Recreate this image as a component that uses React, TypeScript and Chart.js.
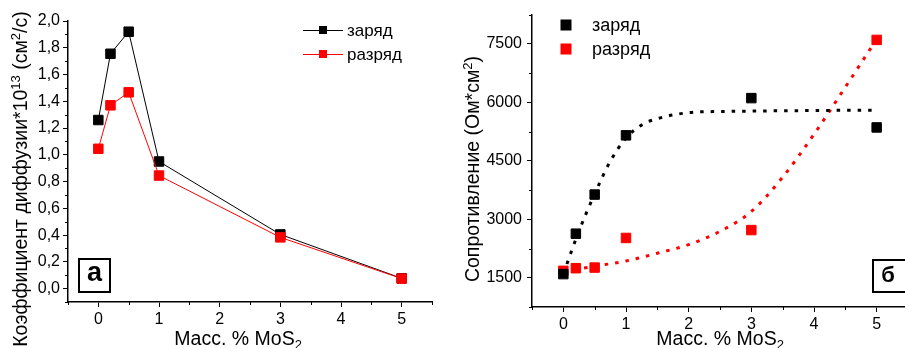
import React, { useEffect, useRef } from 'react';
import { Chart, registerables } from 'chart.js';

Chart.register(...registerables);

// ---- data ----
const massPct = [0, 0.2, 0.5, 1, 3, 5];
const diffCharge = [1.26, 1.755, 1.92, 0.95, 0.405, 0.077];
const diffDischarge = [1.045, 1.37, 1.467, 0.845, 0.383, 0.075];
const resCharge = [1594, 2631, 3634, 5153, 6108, 5356];
const resDischarge = [1677, 1745, 1761, 2521, 2723, 7601];

const chargeFitX = [0, 0.25, 0.5, 0.75, 1.0, 1.25, 1.5, 2.0, 2.5, 3.0, 4.0, 5.0];
const chargeFitY = [1600, 2700, 3650, 4490, 5080, 5420, 5580, 5735, 5765, 5775, 5790, 5800];
const dischargeFitX = [0, 0.5, 1.0, 1.5, 2.0, 2.5, 3.0, 3.5, 4.0, 4.5, 5.0];
const dischargeFitY = [1660, 1795, 1930, 2130, 2350, 2690, 3200, 4080, 5180, 6390, 7620];

const seriesLabels = ['заряд', 'разряд'];
const xTicks = [0, 1, 2, 3, 4, 5];
const xMinor = [-0.5, 0.5, 1.5, 2.5, 3.5, 4.5, 5.5];
const yTicksLeft = [0, 0.2, 0.4, 0.6, 0.8, 1.0, 1.2, 1.4, 1.6, 1.8, 2.0];
const yMinorLeft = [-0.1, 0.1, 0.3, 0.5, 0.7, 0.9, 1.1, 1.3, 1.5, 1.7, 1.9];
const yTicksRight = [1500, 3000, 4500, 6000, 7500];
const yMinorRight = [750, 2250, 3750, 5250, 6750, 8250];

// title text pieces: [text, 0 = normal | 1 = superscript | -1 = subscript]
const xTitleParts: [string, number][] = [['Масс. % MoS', 0], ['2', -1]];
const yTitleLeftParts: [string, number][] = [
  ['Коэффициент диффузии*10', 0],
  ['13', 1],
  [' (см', 0],
  ['2', 1],
  ['/с)', 0],
];
const yTitleRightParts: [string, number][] = [['Сопротивление (Ом*см', 0], ['2', 1], [')', 0]];
const panelLabels = ['а', 'б'];

const FONT = '"Liberation Sans", Arial, sans-serif';
const BLACK = '#000000';
const RED = '#ff0000';

const pts = (xs: number[], ys: number[]) => xs.map((x, i) => ({ x, y: ys[i] }));

function drawRich(ctx: any, parts: [string, number][], size: number) {
  const fontFor = (k: number) => `${k === 0 ? size : Math.round(size * 0.68)}px ${FONT}`;
  let total = 0;
  parts.forEach(([t, k]) => {
    ctx.font = fontFor(k);
    total += ctx.measureText(t).width;
  });
  let x = -total / 2;
  parts.forEach(([t, k]) => {
    ctx.font = fontFor(k);
    const dy = k === 1 ? -size * 0.36 : k === -1 ? size * 0.22 : 0;
    ctx.fillText(t, x, dy);
    x += ctx.measureText(t).width;
  });
}

const decoPlugin = {
  id: 'deco',
  afterDraw(chart: any, _args: any, opts: any) {
    const ctx = chart.ctx;
    ctx.save();
    // minor ticks
    (opts.minor || []).forEach((m: any) => {
      const s = chart.scales[m.scale];
      ctx.strokeStyle = BLACK;
      ctx.lineWidth = 1;
      m.values.forEach((v: number) => {
        const p = Math.round(s.getPixelForValue(v)) + 0.5;
        ctx.beginPath();
        if (s.isHorizontal()) {
          const y0 = chart.chartArea.bottom;
          ctx.moveTo(p, y0);
          ctx.lineTo(p, y0 + m.len);
        } else {
          const x0 = chart.chartArea.left;
          ctx.moveTo(x0 - m.len, p);
          ctx.lineTo(x0, p);
        }
        ctx.stroke();
      });
    });
    // titles
    (opts.titles || []).forEach((t: any) => {
      ctx.save();
      ctx.fillStyle = BLACK;
      ctx.textAlign = 'left';
      ctx.textBaseline = 'alphabetic';
      ctx.translate(t.x, t.y);
      if (t.rotate) ctx.rotate(t.rotate);
      drawRich(ctx, t.parts, t.size);
      ctx.restore();
    });
    // legend
    (opts.legend || []).forEach((l: any) => {
      ctx.strokeStyle = l.color;
      ctx.fillStyle = l.color;
      if (l.lineFrom !== undefined) {
        ctx.lineWidth = 1;
        ctx.beginPath();
        ctx.moveTo(l.lineFrom, l.y + 0.5);
        ctx.lineTo(l.lineTo, l.y + 0.5);
        ctx.stroke();
      }
      ctx.fillRect(l.mx - l.size / 2, l.y - l.size / 2, l.size, l.size);
      ctx.fillStyle = BLACK;
      ctx.font = l.font;
      ctx.textAlign = 'left';
      ctx.textBaseline = 'middle';
      ctx.fillText(l.text, l.tx, l.y + 1);
    });
    // panel label box
    (opts.boxes || []).forEach((b: any) => {
      ctx.strokeStyle = BLACK;
      ctx.lineWidth = 2;
      ctx.fillStyle = '#ffffff';
      ctx.fillRect(b.x, b.y, b.w, b.h);
      ctx.strokeRect(b.x, b.y, b.w, b.h);
      ctx.fillStyle = BLACK;
      ctx.font = b.font;
      ctx.textAlign = 'center';
      ctx.textBaseline = 'middle';
      ctx.fillText(b.text, b.tx, b.ty);
    });
    ctx.restore();
  },
};

const tickFont = { family: FONT, size: 16 };

function xScale(height: number) {
  return {
    type: 'linear',
    min: -0.5,
    max: 5.5,
    afterBuildTicks: (s: any) => {
      s.ticks = xTicks.map((v) => ({ value: v }));
    },
    afterFit: (s: any) => {
      s.height = height;
    },
    ticks: {
      font: tickFont,
      color: BLACK,
      padding: 3,
      maxRotation: 0,
      autoSkip: false,
      callback: (v: any) => String(v),
    },
    grid: { drawOnChartArea: false, drawTicks: true, tickLength: 5, color: BLACK, lineWidth: 1 },
    border: { display: true, color: BLACK, width: 1.5 },
  };
}

function yScale(min: number, max: number, ticks: number[], width: number, fmt: (v: number) => string, pad: number) {
  return {
    type: 'linear',
    min,
    max,
    afterBuildTicks: (s: any) => {
      s.ticks = ticks.map((v) => ({ value: v }));
    },
    afterFit: (s: any) => {
      s.width = width;
    },
    ticks: {
      font: tickFont,
      color: BLACK,
      padding: pad,
      autoSkip: false,
      callback: (v: any) => fmt(Number(v)),
    },
    grid: { drawOnChartArea: false, drawTicks: true, tickLength: 5, color: BLACK, lineWidth: 1 },
    border: { display: true, color: BLACK, width: 1.5 },
  };
}

const markerStyle = (color: string) => ({
  borderColor: color,
  backgroundColor: color,
  pointBackgroundColor: color,
  pointBorderColor: color,
  pointStyle: 'rect',
  pointRadius: 6.7,
  pointHoverRadius: 6.7,
  pointBorderWidth: 1,
});

function leftConfig(): any {
  return {
    type: 'scatter',
    data: {
      datasets: [
        {
          label: seriesLabels[1],
          data: pts(massPct, diffDischarge),
          showLine: true,
          borderWidth: 1,
          ...markerStyle(RED),
          order: 0,
        },
        {
          label: seriesLabels[0],
          data: pts(massPct, diffCharge),
          showLine: true,
          borderWidth: 1,
          ...markerStyle(BLACK),
          order: 1,
        },
      ],
    },
    options: {
      responsive: false,
      animation: false,
      layout: { padding: { left: 0, top: 21, right: 18, bottom: 0 } },
      plugins: {
        legend: { display: false },
        tooltip: { enabled: false },
        deco: {
          minor: [
            { scale: 'x', values: xMinor, len: 3 },
            { scale: 'y', values: yMinorLeft, len: 3 },
          ],
          titles: [
            { parts: xTitleParts, x: 238, y: 345, size: 19.5 },
            { parts: yTitleLeftParts, x: 27, y: 179, rotate: -Math.PI / 2, size: 19.5 },
          ],
          legend: [
            { text: seriesLabels[0], color: BLACK, lineFrom: 303, lineTo: 343, mx: 323, y: 30, size: 8, tx: 347, font: `17px ${FONT}` },
            { text: seriesLabels[1], color: RED, lineFrom: 303, lineTo: 343, mx: 323, y: 54, size: 8, tx: 347, font: `17px ${FONT}` },
          ],
          boxes: [{ x: 79, y: 259, w: 31, h: 33, text: panelLabels[0], tx: 94.5, ty: 274, font: `bold 27px ${FONT}` }],
        },
      },
      scales: {
        x: xScale(58),
        y: yScale(-0.1, 2.0, yTicksLeft, 68, (v) => v.toFixed(1).replace('.', ','), 3),
      },
    },
    plugins: [decoPlugin],
  };
}

function rightConfig(): any {
  return {
    type: 'scatter',
    data: {
      datasets: [
        {
          label: seriesLabels[0],
          data: pts(massPct, resCharge),
          showLine: false,
          ...markerStyle(BLACK),
          order: 0,
        },
        {
          label: seriesLabels[1],
          data: pts(massPct, resDischarge),
          showLine: false,
          ...markerStyle(RED),
          order: 1,
        },
        {
          label: 'fit-charge',
          data: pts(chargeFitX, chargeFitY),
          showLine: true,
          pointRadius: 0,
          borderColor: BLACK,
          borderWidth: 3,
          borderDash: [3.5, 7],
          cubicInterpolationMode: 'monotone',
          order: 2,
        },
        {
          label: 'fit-discharge',
          data: pts(dischargeFitX, dischargeFitY),
          showLine: true,
          pointRadius: 0,
          borderColor: RED,
          borderWidth: 3,
          borderDash: [3.5, 7],
          cubicInterpolationMode: 'monotone',
          order: 3,
        },
      ],
    },
    options: {
      responsive: false,
      animation: false,
      layout: { padding: { left: 0, top: 10, right: 12, bottom: 0 } },
      plugins: {
        legend: { display: false },
        tooltip: { enabled: false },
        deco: {
          minor: [
            { scale: 'x', values: xMinor, len: 3 },
            { scale: 'y', values: yMinorRight, len: 3 },
          ],
          titles: [
            { parts: xTitleParts, x: 270, y: 345, size: 19.5 },
            { parts: yTitleRightParts, x: 29, y: 169, rotate: -Math.PI / 2, size: 19.5 },
          ],
          legend: [
            { text: seriesLabels[0], color: BLACK, mx: 116, y: 25, size: 11, tx: 142, font: `18px ${FONT}` },
            { text: seriesLabels[1], color: RED, mx: 116, y: 49, size: 11, tx: 142, font: `18px ${FONT}` },
          ],
          boxes: [{ x: 423, y: 260, w: 34, h: 32, text: panelLabels[1], tx: 438, ty: 276, font: `bold 22px ${FONT}` }],
        },
      },
      scales: {
        x: xScale(53),
        y: yScale(750, 8250, yTicksRight, 82, (v) => String(v), 5),
      },
    },
    plugins: [decoPlugin],
  };
}

export default function App() {
  const leftRef = useRef<HTMLCanvasElement | null>(null);
  const rightRef = useRef<HTMLCanvasElement | null>(null);

  useEffect(() => {
    const c1 = new Chart(leftRef.current as HTMLCanvasElement, leftConfig());
    const c2 = new Chart(rightRef.current as HTMLCanvasElement, rightConfig());
    return () => {
      c1.destroy();
      c2.destroy();
    };
  }, []);

  return (
    <div
      style={{
        position: 'fixed',
        left: 0,
        top: 0,
        width: 905,
        height: 348,
        overflow: 'hidden',
        background: '#ffffff',
      }}
    >
      <canvas ref={leftRef} width={450} height={360} style={{ position: 'absolute', left: 0, top: 0 }} />
      <canvas ref={rightRef} width={470} height={360} style={{ position: 'absolute', left: 450, top: 0 }} />
    </div>
  );
}
